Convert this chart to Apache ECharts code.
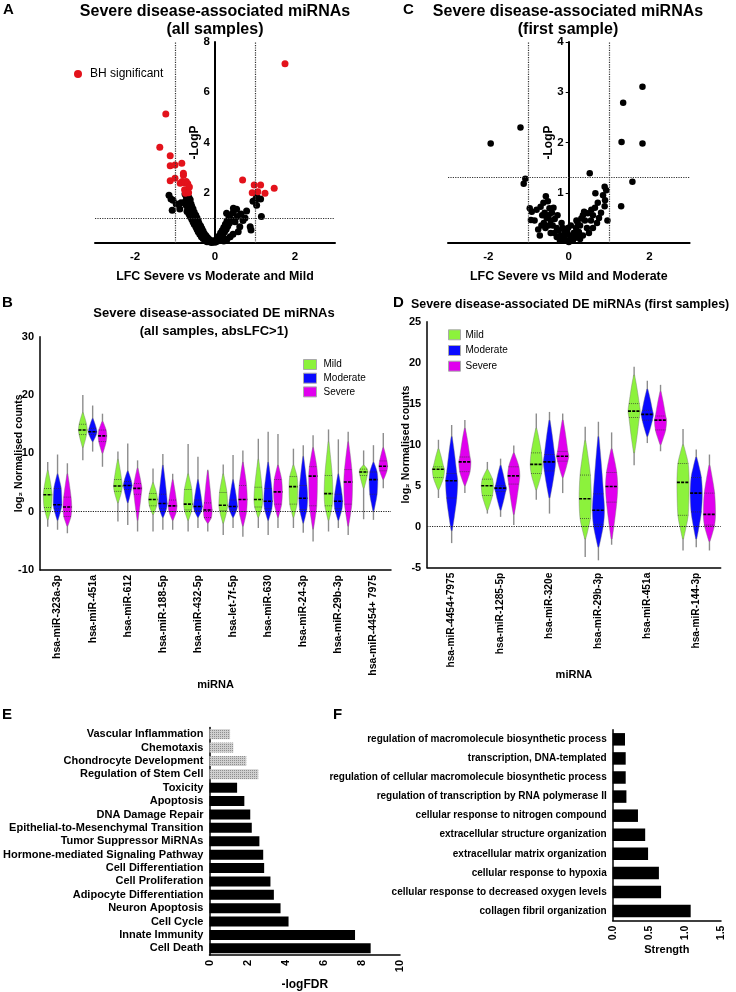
<!DOCTYPE html>
<html><head><meta charset="utf-8">
<script src="https://cdn.jsdelivr.net/npm/echarts@6/dist/echarts.min.js"></script>
<style>html,body{margin:0;padding:0;background:#fff}#c{width:736px;height:992px}</style>
</head><body><div id="c"></div>
<script>
// ---------- Panel A : volcano, all samples ----------
const aBlack = [
[-1.15,1.9],[-1.1,1.75],[-1.05,1.7],[-1.07,1.3],[-0.97,1.55],[-0.88,1.35],[-0.85,1.6],
[-0.75,1.95],[-0.72,1.85],[-0.68,1.9],[-0.65,1.8],[-0.7,1.75],[-0.74,1.65],[-0.66,1.7],[-0.62,1.72],[-0.7,1.6],[-0.64,1.6],[-0.6,1.55],
[-0.72,1.5],[-0.66,1.45],[-0.58,1.45],[-0.68,1.38],[-0.62,1.35],[-0.55,1.35],[-0.7,1.25],[-0.6,1.25],[-0.52,1.22],[-0.65,1.15],[-0.56,1.12],
[-0.48,1.1],[-0.62,1.05],[-0.53,1.0],[-0.45,1.0],[-0.58,0.95],[-0.5,0.9],[-0.42,0.88],[-0.55,0.85],[-0.47,0.8],[-0.4,0.78],[-0.52,0.75],
[-0.44,0.7],[-0.36,0.68],[-0.48,0.65],[-0.4,0.6],[-0.33,0.58],[-0.45,0.55],[-0.37,0.5],[-0.3,0.48],[-0.42,0.45],[-0.34,0.4],[-0.27,0.38],
[-0.38,0.35],[-0.3,0.3],[-0.23,0.3],[-0.34,0.25],[-0.26,0.22],[-0.19,0.22],[-0.3,0.18],[-0.22,0.15],[-0.15,0.15],[-0.25,0.1],[-0.17,0.08],
[-0.1,0.1],[-0.2,0.05],[-0.12,0.04],[-0.05,0.05],[-0.08,0.02],
[0.0,0.03],[0.04,0.06],[0.08,0.1],[0.02,0.12],[0.12,0.15],[0.06,0.2],[0.16,0.25],[0.1,0.28],[0.2,0.35],[0.14,0.4],[0.24,0.45],[0.18,0.5],
[0.28,0.55],[0.22,0.62],[0.32,0.68],[0.26,0.75],[0.36,0.8],[0.3,0.88],[0.4,0.95],[0.35,1.05],[0.29,1.18],[0.45,1.2],[0.46,1.38],[0.54,1.34],
[0.56,1.05],[0.5,0.85],[0.62,0.65],[0.58,0.45],[0.45,0.35],[0.38,0.25],[0.3,0.15],[0.22,0.08],[0.65,1.15],[0.7,0.9],[0.79,1.27],[0.75,1.0],
[0.88,0.65],[0.9,0.52],[1.0,1.7],[1.04,1.84],[0.95,1.66],[1.14,1.75],[1.16,1.05],[1.04,1.5]
];
const aRed = [
[1.75,7.13],[-1.23,5.13],[-1.38,3.81],[-1.12,3.47],[-1.12,3.07],[-1.0,3.1],[-0.83,3.17],[-1.12,2.48],[-1.0,2.58],[-0.79,2.78],
[-0.79,2.7],[-0.87,2.38],[-0.82,2.45],[-0.76,2.4],[-0.72,2.45],[-0.68,2.36],[-0.76,2.12],[-0.68,2.12],[-0.64,2.23],[-0.74,1.98],[-0.66,2.0],
[0.69,2.51],[0.98,2.31],[1.14,2.31],[0.93,2.0],[1.07,2.04],[1.25,1.98],[1.48,2.18]
];
const aLfcCut = [-1, 1];
const aPCut = 1;

// ---------- Panel C : volcano, first sample ----------
const cPoints = [
[-1.94,1.98],[-1.2,2.3],[-1.08,1.28],[-1.12,1.18],[1.83,3.11],[1.35,2.79],[1.31,2.01],[1.83,1.98],[0.52,1.39],[1.58,1.22],[1.3,0.73],
[-0.97,0.69],[-0.94,0.46],[-0.76,0.27],[-0.8,0.66],[-0.63,0.8],[-0.57,0.93],[-0.52,0.83],[-0.48,0.69],[-0.92,0.62],[-0.7,0.72],[-0.66,0.55],
[-0.6,0.6],[-0.55,0.5],[-0.5,0.55],[-0.45,0.45],[-0.42,0.6],[-0.62,0.4],[-0.58,0.3],[-0.5,0.35],[-0.4,0.35],[-0.35,0.48],[-0.3,0.3],
[-0.45,0.2],[-0.35,0.2],[-0.25,0.25],[-0.3,0.12],[-0.2,0.15],[-0.15,0.3],[-0.12,0.1],[-0.22,0.05],[-0.08,0.05],[-0.05,0.18],[-0.1,0.22],
[-0.18,0.4],[-0.28,0.55],[-0.38,0.7],[-0.68,0.35],[-0.85,0.45],[-0.72,0.15],
[0.0,0.02],[0.03,0.08],[0.06,0.15],[0.1,0.05],[0.12,0.2],[0.15,0.1],[0.18,0.3],[0.2,0.15],[0.25,0.22],[0.22,0.4],[0.28,0.35],[0.31,0.49],
[0.19,0.45],[0.35,0.55],[0.4,0.45],[0.38,0.62],[0.47,0.59],[0.56,0.66],[0.45,0.3],[0.55,0.45],[0.6,0.55],[0.65,0.7],[0.72,0.8],[0.66,0.99],
[0.89,1.12],[0.93,1.05],[0.85,0.95],[0.9,0.85],[0.89,0.73],[0.96,0.45],[0.8,0.6],[0.75,0.5],[0.7,0.4],[0.6,0.3],[0.5,0.2],[0.35,0.15],
[0.28,0.08],[-0.02,0.3],[0.05,0.35]
];
const cLfcCut = [-1, 1];
const cPCut = 1.3;

// ---------- Panel B : violins, all samples ----------
// each violin: [min, bodyLow, q1, median, q3, bodyHigh, max]
const bCategories = ['hsa-miR-323a-3p','hsa-miR-451a','hsa-miR-612','hsa-miR-188-5p','hsa-miR-432-5p','hsa-let-7f-5p','hsa-miR-630','hsa-miR-24-3p','hsa-miR-29b-3p','hsa-miR-4454+ 7975'];
const bMild = [
[-2.6,-1.4,0.7,2.9,4.0,7.1,8.5],[8.8,11.0,13.2,14.0,15.0,17.0,20.0],[-1.7,1.5,3.5,4.4,5.5,9.0,10.3],[-3.4,-0.5,1.0,2.1,3.1,5.0,7.4],
[-3.4,-1.5,0.3,1.3,3.8,6.5,11.6],[-4.0,-2.0,0.2,1.1,3.3,6.5,8.1],[-2.8,-1.0,0.8,2.1,4.2,9.0,12.5],[-2.8,-1.0,1.3,4.3,6.0,8.0,10.8],
[-3.4,-1.5,1.0,3.1,6.2,12.0,14.1],[-1.3,4.0,6.2,6.8,7.3,8.0,10.5]
];
const bModerate = [
[-3.1,-1.5,0.5,1.2,4.0,6.5,9.8],[10.3,12.0,13.2,13.7,14.3,16.0,18.2],[-2.3,1.5,3.8,4.5,5.2,7.0,11.7],[-3.1,-1.0,0.5,1.4,3.0,8.0,9.9],
[-2.8,-1.0,0.2,0.9,2.0,5.5,9.4],[-2.8,-1.0,0.3,0.9,2.0,5.5,9.7],[-4.0,-1.5,0.5,1.8,4.0,8.5,13.7],[-3.6,-2.0,0.4,2.3,4.5,9.5,11.4],
[-2.8,-1.5,0.5,1.8,3.0,6.5,12.4],[-1.4,0.0,3.0,5.5,6.8,8.5,11.4]
];
const bSevere = [
[-3.7,-2.5,-0.8,0.8,2.5,6.5,8.3],[7.7,10.0,12.0,13.0,14.0,15.5,16.8],[-3.4,-1.5,3.0,4.0,4.8,7.5,8.8],[-3.1,-1.5,0.0,1.0,2.0,5.5,6.5],
[-3.4,-2.0,-1.0,0.3,1.5,7.0,7.2],[-4.3,-2.5,0.0,2.1,4.5,8.5,10.5],[-2.8,-1.0,1.3,3.4,5.5,8.0,13.3],[-5.1,-3.0,1.0,6.1,7.7,11.0,13.1],
[-4.0,-2.5,1.3,5.1,7.2,12.0,13.7],[4.0,5.5,7.0,7.8,8.7,11.0,13.5]
];

// ---------- Panel D : violins, first samples ----------
const dCategories = ['hsa-miR-4454+7975','hsa-miR-1285-5p','hsa-miR-320e','hsa-miR-29b-3p','hsa-miR-451a','hsa-miR-144-3p'];
const dMild = [
[3.5,4.5,6.0,7.0,7.3,9.5,10.6],[1.6,2.0,3.8,5.0,5.8,7.0,7.9],[3.3,4.5,6.5,7.6,9.0,12.0,13.8],
[-3.7,-1.5,1.0,3.4,6.3,10.5,12.2],[7.5,9.0,13.3,14.1,15.0,18.5,19.5],[-2.9,-1.5,1.4,5.4,7.7,10.0,11.9]
];
const dModerate = [
[-2.0,-0.5,3.5,5.6,6.5,11.0,12.4],[1.2,2.0,4.3,4.7,5.0,7.5,8.3],[1.6,3.5,6.8,7.9,8.8,13.0,14.0],
[-4.1,-2.5,0.3,2.0,4.0,11.0,12.8],[10.2,11.0,13.0,13.7,14.2,16.8,17.8],[-2.5,-1.5,1.8,4.1,6.0,8.5,9.4]
];
const dSevere = [
[4.1,5.0,6.7,7.9,8.5,12.0,13.0],[0.2,1.5,5.2,6.2,7.3,9.0,9.9],[4.1,6.0,8.0,8.6,9.2,13.0,13.8],
[-2.2,-1.5,3.0,4.9,6.6,9.5,11.5],[9.2,10.0,11.8,13.0,13.5,16.5,17.3],[-2.9,-1.8,0.2,1.5,4.1,7.5,8.8]
];

// ---------- Panel E : pathway enrichment ----------
const eCategories = ['Vascular Inflammation','Chemotaxis','Chondrocyte Development','Regulation of Stem Cell','Toxicity','Apoptosis','DNA Damage Repair','Epithelial-to-Mesenchymal Transition','Tumor Suppressor MiRNAs','Hormone-mediated Signaling Pathway','Cell Differentiation','Cell Proliferation','Adipocyte Differentiation','Neuron Apoptosis','Cell Cycle','Innate Immunity','Cell Death'];
const eValues = [1.08,1.25,1.93,2.56,1.45,1.83,2.14,2.22,2.62,2.82,2.87,3.2,3.38,3.73,4.15,7.64,8.46];
const eNonSignificantCount = 4;

// ---------- Panel F : GO strength ----------
const fCategories = ['regulation of macromolecule biosynthetic process','transcription, DNA-templated','regulation of cellular macromolecule biosynthetic process','regulation of transcription by RNA polymerase II','cellular response to nitrogen compound','extracellular structure organization','extracellular matrix organization','cellular response to hypoxia','cellular response to decreased oxygen levels','collagen fibril organization'];
const fValues = [0.17,0.18,0.18,0.19,0.35,0.45,0.49,0.64,0.67,1.08];

// ================== drawing ==================
const FONT = 'Liberation Sans, Arial, Helvetica, sans-serif';
const COL = {Mild:'#8cf23c', Moderate:'#0a0aff', Severe:'#e000ee'};
const chart = echarts.init(document.getElementById('c'), null, {renderer:'canvas'});

function violinRender(off, wf, color){
  return function(params, api){
    const cat = api.value(0);
    const mn = api.value(1), lo = api.value(2), q1 = api.value(3), md = api.value(4), q3 = api.value(5), hi = api.value(6), mx = api.value(7);
    const band = api.size([1,0])[0];
    const cx = api.coord([cat, md])[0] + off*band;
    const W = band*wf;
    const Y = v => api.coord([cat, v])[1];
    const prof = [[hi,0.08],[(q3+hi)/2,0.5],[q3,0.85],[md,1],[q1,0.85],[(lo+q1)/2,0.5],[lo,0.08]];
    const pts = [[cx, Y(hi)]];
    prof.forEach(p => pts.push([cx + p[1]*W, Y(p[0])]));
    pts.push([cx, Y(lo)]);
    prof.slice().reverse().forEach(p => pts.push([cx - p[1]*W, Y(p[0])]));
    return {type:'group', children:[
      {type:'line', shape:{x1:cx,y1:Y(mx),x2:cx,y2:Y(mn)}, style:{stroke:'#8c8c8c', lineWidth:1.4}},
      {type:'polygon', shape:{points:pts, smooth:0.3}, style:{fill:color, stroke:'rgba(120,120,120,0.7)', lineWidth:0.6}},
      {type:'line', shape:{x1:cx-0.85*W,y1:Y(q1),x2:cx+0.85*W,y2:Y(q1)}, style:{stroke:'#333', lineWidth:0.7, lineDash:[1,1]}},
      {type:'line', shape:{x1:cx-0.85*W,y1:Y(q3),x2:cx+0.85*W,y2:Y(q3)}, style:{stroke:'#333', lineWidth:0.7, lineDash:[1,1]}},
      {type:'line', shape:{x1:cx-W,y1:Y(md),x2:cx+W,y2:Y(md)}, style:{stroke:'#000', lineWidth:1.6, lineDash:[3,1.2]}}
    ]};
  };
}
function violinSeries(name, arr, xi, off, wf, extra){
  const s = {
    type:'custom', name:name, xAxisIndex:xi, yAxisIndex:xi,
    itemStyle:{color:COL[name]},
    data: arr.map((v,i)=>[i].concat(v)),
    encode:{x:0, y:[1,2,3,4,5,6,7]},
    renderItem: violinRender(off, wf, COL[name]),
    silent:true
  };
  return Object.assign(s, extra||{});
}
const zeroLine = {silent:true, symbol:'none', label:{show:false}, lineStyle:{type:'dotted', color:'#222', width:1.2}, data:[{yAxis:0}]};
function threshLines(xs, y){
  return {silent:true, symbol:'none', label:{show:false}, lineStyle:{type:'dotted', color:'#333', width:1.2},
    data: xs.map(x=>({xAxis:x})).concat([{yAxis:y}])};
}
const bold = (s)=>({fontFamily:FONT, fontWeight:'bold', fontSize:s, color:'#000'});
const axLine = (w)=>({show:true, onZero:false, lineStyle:{color:'#000', width:w}});

const option = {
  animation:false,
  textStyle:{fontFamily:FONT},
  grid:[
    {left:95, top:42, width:240, height:201},
    {left:448, top:42, width:241.6, height:201},
    {left:40, top:336.7, width:351, height:233.3},
    {left:427.2, top:321.7, width:293.5, height:246},
    {left:205, top:727.5, width:195, height:229.5},
    {left:612.7, top:729.8, width:108.3, height:190.8}
  ],
  xAxis:[
    {gridIndex:0, type:'value', min:-3, max:3, interval:1, splitLine:{show:false}, axisLine:axLine(2), axisTick:{show:false},
     axisLabel:Object.assign(bold(11.5),{formatter:v=>(v%2===0?String(v):''), margin:8}),
     name:'LFC Severe vs Moderate and Mild', nameLocation:'middle', nameGap:28, nameMoveOverlap:false, nameTextStyle:bold(12.4)},
    {gridIndex:1, type:'value', min:-3, max:3, interval:1, splitLine:{show:false}, axisLine:axLine(2), axisTick:{show:false},
     axisLabel:Object.assign(bold(11.5),{formatter:v=>(v%2===0?String(v):''), margin:8}),
     name:'LFC Severe vs Mild and Moderate', nameLocation:'middle', nameGap:28, nameMoveOverlap:false, nameTextStyle:bold(12.4)},
    {gridIndex:2, type:'category', data:bCategories, axisLine:axLine(1.5), axisTick:{alignWithLabel:true, length:4, lineStyle:{color:'#000'}},
     axisLabel:Object.assign(bold(10.5),{rotate:90, margin:5, interval:0}),
     name:'miRNA', nameLocation:'middle', nameGap:109, nameMoveOverlap:false, nameTextStyle:bold(11)},
    {gridIndex:3, type:'category', data:dCategories, axisLine:axLine(1.5), axisTick:{alignWithLabel:true, length:4, lineStyle:{color:'#000'}},
     axisLabel:Object.assign(bold(10.2),{rotate:90, margin:5, interval:0}),
     name:'miRNA', nameLocation:'middle', nameGap:102, nameMoveOverlap:false, nameTextStyle:bold(11)},
    {gridIndex:4, type:'value', min:0, max:10, interval:2, splitLine:{show:false}, axisLine:axLine(1.5), axisTick:{length:4, lineStyle:{color:'#000'}},
     axisLabel:Object.assign(bold(11),{rotate:90, margin:5}),
     name:'-logFDR', nameLocation:'middle', nameGap:24, nameTextStyle:bold(12)},
    {gridIndex:5, type:'value', min:0, max:1.5, interval:0.5, splitLine:{show:false}, axisLine:axLine(1.5), axisTick:{length:4, lineStyle:{color:'#000'}},
     axisLabel:Object.assign(bold(10.5),{rotate:90, margin:5, formatter:v=>v.toFixed(1)}),
     name:'Strength', nameLocation:'middle', nameGap:24, nameTextStyle:bold(11)}
  ],
  yAxis:[
    {gridIndex:0, type:'value', min:0, max:8, interval:2, offset:-120, splitLine:{show:false}, axisLine:axLine(2), axisTick:{show:false},
     axisLabel:Object.assign(bold(11.5),{formatter:v=>(v===0?'':String(v)), margin:5}),
     name:'-LogP', nameLocation:'middle', nameGap:14, nameMoveOverlap:false, nameTextStyle:bold(12)},
    {gridIndex:1, type:'value', min:0, max:4, interval:1, offset:-120.7, splitLine:{show:false}, axisLine:axLine(2), axisTick:{show:true, length:3, lineStyle:{color:'#000'}},
     axisLabel:Object.assign(bold(11.5),{formatter:v=>(v===0?'':String(v)), margin:5}),
     name:'-LogP', nameLocation:'middle', nameGap:14, nameMoveOverlap:false, nameTextStyle:bold(12)},
    {gridIndex:2, type:'value', min:-10, max:30, interval:10, splitLine:{show:false}, axisLine:axLine(1.5), axisTick:{length:4, lineStyle:{color:'#000'}},
     axisLabel:Object.assign(bold(11),{margin:6}),
     name:'log\u2082 Normalised counts', nameLocation:'middle', nameGap:15, nameMoveOverlap:false, nameTextStyle:bold(10.5)},
    {gridIndex:3, type:'value', min:-5, max:25, interval:5, splitLine:{show:false}, axisLine:axLine(1.5), axisTick:{length:4, lineStyle:{color:'#000'}},
     axisLabel:Object.assign(bold(11),{margin:6}),
     name:'log\u2082 Normalised counts', nameLocation:'middle', nameGap:15.5, nameMoveOverlap:false, nameTextStyle:bold(10.5)},
    {gridIndex:4, type:'category', data:eCategories, inverse:true, axisLine:axLine(1.5), axisTick:{alignWithLabel:true, length:3, lineStyle:{color:'#000'}},
     axisLabel:Object.assign(bold(11),{margin:6, interval:0})},
    {gridIndex:5, type:'category', data:fCategories, inverse:true, axisLine:axLine(1.5), axisTick:{alignWithLabel:true, length:3, lineStyle:{color:'#000'}},
     axisLabel:Object.assign(bold(10),{margin:6, interval:0})}
  ],
  legend:[
    {data:['BH significant'], left:69, top:63, icon:'circle', itemWidth:8, itemHeight:8, selectedMode:false,
     textStyle:{fontFamily:FONT, fontSize:12, color:'#000', padding:[0,0,0,3]}},
    {data:['Mild','Moderate','Severe'], left:298, top:354, orient:'vertical', icon:'rect', itemWidth:13, itemHeight:10, itemGap:2.7, selectedMode:false,
     itemStyle:{borderColor:'#aaa', borderWidth:1}, textStyle:{fontFamily:FONT, fontSize:10, lineHeight:10, color:'#000', padding:[0,0,0,2]}},
    {data:['Mild','Moderate','Severe'], left:443, top:324.3, orient:'vertical', icon:'rect', itemWidth:12, itemHeight:10, itemGap:4.7, selectedMode:false,
     itemStyle:{borderColor:'#aaa', borderWidth:1}, textStyle:{fontFamily:FONT, fontSize:10, lineHeight:10, color:'#000'}}
  ],
  series:[
    {type:'scatter', xAxisIndex:0, yAxisIndex:0, data:aBlack, symbolSize:7, itemStyle:{color:'#000', opacity:1}, silent:true,
     markLine:threshLines(aLfcCut, aPCut)},
    {type:'scatter', name:'BH significant', xAxisIndex:0, yAxisIndex:0, data:aRed, symbolSize:7, itemStyle:{color:'#e3121b', opacity:1}, silent:true},
    {type:'scatter', xAxisIndex:1, yAxisIndex:1, data:cPoints, symbolSize:6.5, itemStyle:{color:'#000', opacity:1}, silent:true,
     markLine:threshLines(cLfcCut, cPCut)},
    violinSeries('Mild', bMild, 2, -0.28, 0.125, {markLine:zeroLine}),
    violinSeries('Moderate', bModerate, 2, 0, 0.125),
    violinSeries('Severe', bSevere, 2, 0.28, 0.125),
    violinSeries('Mild', dMild, 3, -0.27, 0.125, {markLine:zeroLine}),
    violinSeries('Moderate', dModerate, 3, 0, 0.125),
    violinSeries('Severe', dSevere, 3, 0.27, 0.125),
    {type:'bar', xAxisIndex:4, yAxisIndex:4, barWidth:10, silent:true,
     data:eValues.map((v,i)=> i < eNonSignificantCount ?
       {value:v, itemStyle:{color:'#cfcfcf', decal:{symbol:'rect', symbolSize:1, color:'rgba(100,100,100,0.6)', dashArrayX:[1,1], dashArrayY:[1,1], rotation:0}}} :
       {value:v, itemStyle:{color:'#000'}})},
    {type:'bar', xAxisIndex:5, yAxisIndex:5, barWidth:12.5, silent:true, data:fValues, itemStyle:{color:'#000'}}
  ],
  graphic:[
    {type:'text', x:3, y:9.5, style:{text:'A', font:'bold 15px '+FONT, fill:'#000', verticalAlign:'middle'}},
    {type:'text', x:215, y:12, style:{text:'Severe disease-associated miRNAs', font:'bold 16px '+FONT, fill:'#000', align:'center', verticalAlign:'middle'}},
    {type:'text', x:215, y:30, style:{text:'(all samples)', font:'bold 16px '+FONT, fill:'#000', align:'center', verticalAlign:'middle'}},
    {type:'text', x:403, y:9.5, style:{text:'C', font:'bold 15px '+FONT, fill:'#000', verticalAlign:'middle'}},
    {type:'text', x:568, y:12, style:{text:'Severe disease-associated miRNAs', font:'bold 16px '+FONT, fill:'#000', align:'center', verticalAlign:'middle'}},
    {type:'text', x:568, y:30, style:{text:'(first sample)', font:'bold 16px '+FONT, fill:'#000', align:'center', verticalAlign:'middle'}},
    {type:'text', x:2, y:303, style:{text:'B', font:'bold 15px '+FONT, fill:'#000', verticalAlign:'middle'}},
    {type:'text', x:214, y:313, style:{text:'Severe disease-associated DE miRNAs', font:'bold 13px '+FONT, fill:'#000', align:'center', verticalAlign:'middle'}},
    {type:'text', x:214, y:331, style:{text:'(all samples, absLFC>1)', font:'bold 13px '+FONT, fill:'#000', align:'center', verticalAlign:'middle'}},
    {type:'text', x:393, y:303, style:{text:'D', font:'bold 15px '+FONT, fill:'#000', verticalAlign:'middle'}},
    {type:'text', x:411, y:305, style:{text:'Severe disease-associated DE miRNAs (first samples)', font:'bold 12.4px '+FONT, fill:'#000', verticalAlign:'middle'}},
    {type:'text', x:2, y:715, style:{text:'E', font:'bold 15px '+FONT, fill:'#000', verticalAlign:'middle'}},
    {type:'text', x:333, y:715, style:{text:'F', font:'bold 15px '+FONT, fill:'#000', verticalAlign:'middle'}}
  ]
};
chart.setOption(option);
</script>
</body></html>
